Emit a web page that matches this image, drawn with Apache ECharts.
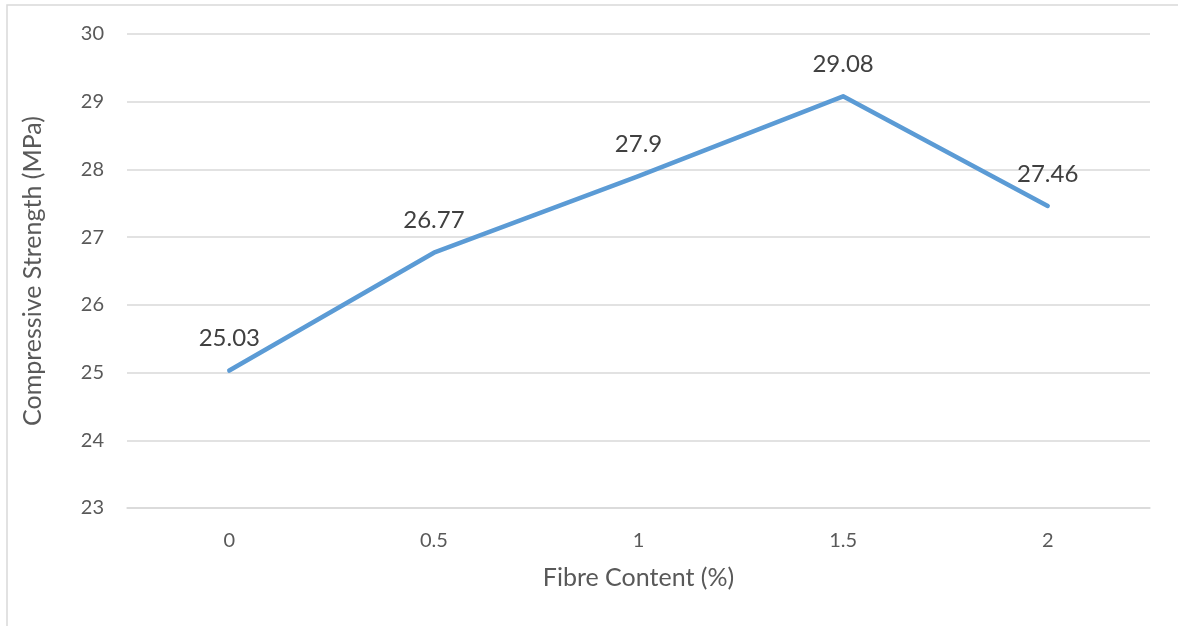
<!DOCTYPE html>
<html><head><meta charset="utf-8">
<script src="https://cdn.jsdelivr.net/npm/echarts@6/dist/echarts.min.js"></script>
<style>html,body{margin:0;padding:0;background:#fff}#c{width:1178px;height:626px}</style>
</head><body><div id="c"></div>
<script>
const categories = ['0', '0.5', '1', '1.5', '2'];
const strength = [25.03, 26.77, 27.9, 29.08, 27.46];
const xTitle = 'Fibre Content (%)';
const yTitle = 'Compressive Strength (MPa)';

const chart = echarts.init(document.getElementById('c'), null, {renderer: 'canvas'});
const font = 'Lato';
chart.setOption({
  animation: false,
  backgroundColor: '#fff',
  graphic: [{type: 'rect', shape: {x: 7, y: 5, width: 1200, height: 700}, style: {fill: 'none', stroke: '#d9d9d9', lineWidth: 1.5}, silent: true}],
  grid: {left: 127, right: 28, top: 34, bottom: 118, containLabel: false},
  xAxis: {
    type: 'category', data: categories, boundaryGap: true,
    axisLine: {show: true, lineStyle: {color: '#d9d9d9', width: 1.5}},
    axisTick: {show: false},
    axisLabel: {color: '#595959', fontSize: 20, fontFamily: font, margin: 23},
    name: xTitle, nameLocation: 'middle', nameGap: 57,
    nameTextStyle: {color: '#595959', fontSize: 25, fontFamily: font}
  },
  yAxis: {
    type: 'value', min: 23, max: 30, interval: 1,
    axisLine: {show: false}, axisTick: {show: false},
    splitLine: {lineStyle: {color: '#d9d9d9', width: 1.5}},
    axisLabel: {color: '#595959', fontSize: 20, fontFamily: font, margin: 23},
    name: yTitle, nameLocation: 'middle', nameGap: 82,
    nameTextStyle: {color: '#595959', fontSize: 25, fontFamily: font}
  },
  series: [{
    type: 'line', data: strength, symbol: 'circle', symbolSize: 0.1, showSymbol: true,
    itemStyle: {color: '#5b9bd5'},
    lineStyle: {color: '#5b9bd5', width: 4.5, cap: 'round', join: 'round'},
    label: {show: true, position: 'top', distance: 20, color: '#404040', fontSize: 24, fontFamily: font}
  }]
});
</script></body></html>
